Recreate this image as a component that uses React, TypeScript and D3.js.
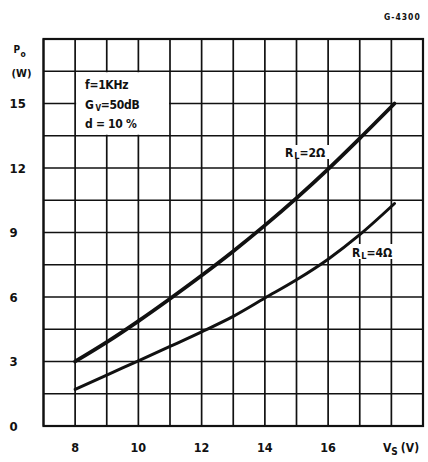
import React from "react";
import * as d3 from "d3";

const volts = [8, 9, 10, 11, 12, 13, 14, 15, 16, 17, 18.1];
const powerR2 = [3.0, 3.9, 4.88, 5.92, 7.0, 8.13, 9.33, 10.6, 11.95, 13.38, 15.0];
const powerR4 = [1.7, 2.37, 3.03, 3.7, 4.38, 5.1, 5.95, 6.8, 7.76, 8.9, 10.35];
const xTicks = [8, 10, 12, 14, 16];
const yTicks = [0, 3, 6, 9, 12, 15];
const legendLines = ["f=1KHz", "G", "d = 10 %"];

const W = 428;
const H = 462;
const FONT = "'DejaVu Sans Condensed', 'Liberation Sans Narrow', 'DejaVu Sans', sans-serif";

export default function App() {
  const x = d3.scaleLinear().domain([7, 19]).range([43.5, 423]);
  const y = d3.scaleLinear().domain([0, 18]).range([426, 39]);
  const xGrid = d3.range(7, 19.001, 1);
  const yGrid = d3.range(0, 18.001, 1.5);
  const line = d3
    .line<number>()
    .x((_, i) => x(volts[i]))
    .y((d) => y(d))
    .curve(d3.curveMonotoneX);

  return (
    <svg
      width={W}
      height={H}
      style={{ position: "absolute", left: 0, top: 0, background: "#fff" }}
      fontFamily={FONT}
      fontWeight="bold"
    >
      <rect width={W} height={H} fill="#fff" />
      {xGrid.map((v) => (
        <line key={"vx" + v} x1={x(v)} x2={x(v)} y1={y(0)} y2={y(18)} stroke="#111" strokeWidth={1.7} />
      ))}
      {yGrid.map((v) => (
        <line key={"hy" + v} y1={y(v)} y2={y(v)} x1={x(7)} x2={x(19)} stroke="#111" strokeWidth={1.7} />
      ))}
      <rect x={x(7)} y={y(18)} width={x(19) - x(7)} height={y(0) - y(18)} fill="none" stroke="#111" strokeWidth={2.2} />
      {/* legend box */}
      <rect x={x(8) + 1} y={y(16.5) + 1} width={x(11) - x(8) - 2} height={y(13.5) - y(16.5) - 2} fill="#fff" />
      <g fontSize={12} fill="#111">
        <text x={85} y={88.5} letterSpacing={-0.3}>{legendLines[0]}</text>
        <text x={85} y={108.5} letterSpacing={-0.3}>
          {legendLines[1]}
          <tspan fontSize={8} dy={2} dx={2}>V</tspan>
          <tspan dy={-2}>=50dB</tspan>
        </text>
        <text x={85} y={128} letterSpacing={-0.3}>{legendLines[2]}</text>
      </g>
      {/* curves */}
      <path d={line(powerR2) || ""} fill="none" stroke="#111" strokeWidth={3.8} strokeLinecap="round" />
      <path d={line(powerR4) || ""} fill="none" stroke="#111" strokeWidth={3} strokeLinecap="round" />
      {/* curve labels */}
      <rect x={283} y={145} width={50} height={14} fill="#fff" />
      <text x={285} y={156.5} fontSize={12} fill="#111">
        R<tspan fontSize={9} dy={2} dx={1}>L</tspan>
        <tspan dy={-2}>=2Ω</tspan>
      </text>
      <rect x={350} y={244} width={50} height={15} fill="#fff" />
      <text x={352} y={257} fontSize={12} fill="#111">
        R<tspan fontSize={9} dy={2} dx={1}>L</tspan>
        <tspan dy={-2}>=4Ω</tspan>
      </text>
      {/* y axis labels */}
      {yTicks.map((v) => (
        <text key={"yl" + v} x={9.5} y={y(v)} dy="0.36em" fontSize={13} fill="#111">
          {v}
        </text>
      ))}
      <text x={13.5} y={53} fontSize={10} fill="#111">
        P<tspan fontSize={8.5} dy={3.5} dx={0.3}>o</tspan>
      </text>
      <text x={11.5} y={77} fontSize={11} fill="#111">(W)</text>
      {/* x axis labels */}
      {xTicks.map((v) => (
        <text key={"xl" + v} x={x(v)} y={452} textAnchor="middle" fontSize={12.5} fill="#111">
          {v}
        </text>
      ))}
      <text x={383} y={452} fontSize={12} fill="#111">
        V<tspan fontSize={10} dy={3}>S</tspan>
        <tspan dy={-3} dx={3}>(V)</tspan>
      </text>
      <text x={384} y={20} fontSize={8.5} fill="#111" letterSpacing={1}>G-4300</text>
    </svg>
  );
}
